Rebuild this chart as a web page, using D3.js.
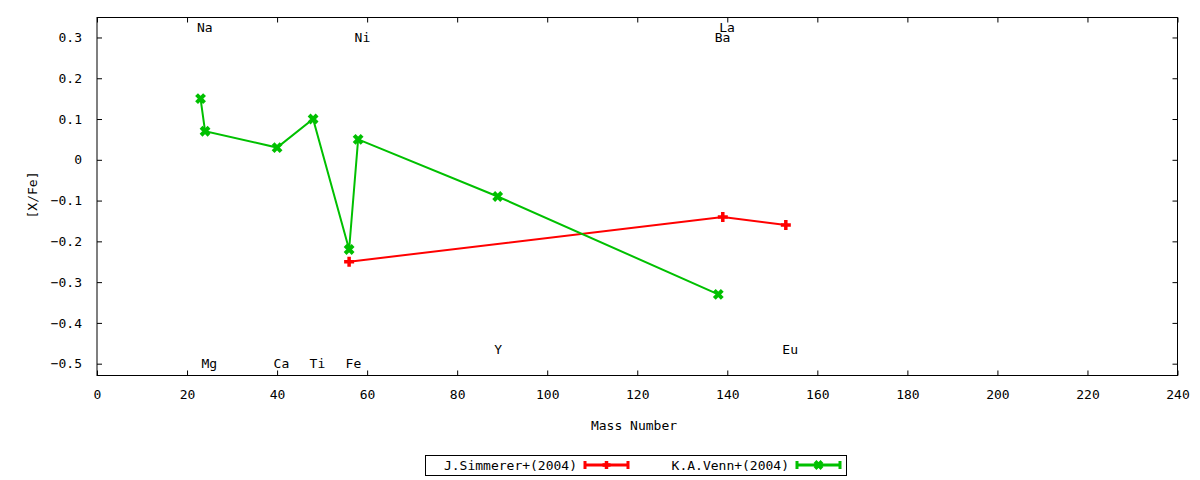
<!DOCTYPE html>
<html>
<head>
<meta charset="utf-8">
<script src="https://cdn.jsdelivr.net/npm/d3@7"></script>
<style>
  body { margin: 0; background: #fff; }
  text { font-family: "DejaVu Sans Mono", monospace; font-size: 13px; fill: #000; }
</style>
</head>
<body>
<div id="chart"></div>
<script>
// J.Simmerer+(2004)
var simmMass = [56, 139, 153];
var simmVal = [-0.25, -0.14, -0.16];
// K.A.Venn+(2004)
var vennMass = [23, 24, 40, 48, 56, 58, 89, 138];
var vennVal = [0.15, 0.07, 0.03, 0.10, -0.22, 0.05, -0.09, -0.33];

// element labels
var elemNames = ["Na", "Mg", "Ca", "Ti", "Fe", "Ni", "Y", "Ba", "La", "Eu"];
var elemMass = [23, 24, 40, 48, 56, 58, 89, 138, 139, 153];
var elemY = [0.325, -0.5, -0.5, -0.5, -0.5, 0.3, -0.466, 0.3, 0.325, -0.466];

var xTicks = [0, 20, 40, 60, 80, 100, 120, 140, 160, 180, 200, 220, 240];
var yTicks = [-0.5, -0.4, -0.3, -0.2, -0.1, 0, 0.1, 0.2, 0.3];

var W = 1200, H = 480;
var margin = {top: 17.5, right: 22.5, bottom: 104.5, left: 97};
var width = W - margin.left - margin.right;
var height = H - margin.top - margin.bottom;

var svg = d3.select("#chart").append("svg")
    .attr("width", W)
    .attr("height", H);

var g = svg.append("g")
    .attr("transform", "translate(" + margin.left + "," + margin.top + ")");

var x = d3.scaleLinear().domain([0, 240]).range([0, width]);
var y = d3.scaleLinear().domain([-0.529, 0.349]).range([height, 0]);

function fmtY(d) { return d === 0 ? "0" : d3.format(".1f")(d); }

// axes: ticks inward, mirrored
g.append("g")
    .attr("transform", "translate(0," + height + ")")
    .call(d3.axisBottom(x).tickValues(xTicks).tickSizeInner(-5).tickSizeOuter(0).tickPadding(14))
    .call(function(a) { a.select(".domain").remove(); a.selectAll("text").attr("font-size", 13).attr("font-family", "DejaVu Sans Mono"); });
g.append("g")
    .call(d3.axisTop(x).tickValues(xTicks).tickSizeInner(-5).tickSizeOuter(0).tickFormat(""))
    .call(function(a) { a.select(".domain").remove(); });
g.append("g")
    .call(d3.axisLeft(y).tickValues(yTicks).tickFormat(fmtY).tickSizeInner(-5).tickSizeOuter(0).tickPadding(15))
    .call(function(a) { a.select(".domain").remove(); a.selectAll("text").attr("font-size", 13).attr("font-family", "DejaVu Sans Mono"); });
g.append("g")
    .attr("transform", "translate(" + width + ",0)")
    .call(d3.axisRight(y).tickValues(yTicks).tickSizeInner(-5).tickSizeOuter(0).tickFormat(""))
    .call(function(a) { a.select(".domain").remove(); });

g.selectAll(".tick line").attr("stroke", "#000");

g.append("rect")
    .attr("width", width)
    .attr("height", height)
    .attr("fill", "none")
    .attr("stroke", "#000")
    .attr("stroke-width", 1);

// axis titles
svg.append("text")
    .attr("x", 634)
    .attr("y", 430)
    .attr("text-anchor", "middle")
    .text("Mass Number");
svg.append("text")
    .attr("transform", "translate(37,195) rotate(-90)")
    .attr("text-anchor", "middle")
    .text("[X/Fe]");

// element labels
g.selectAll(".elem")
    .data(elemNames)
    .enter().append("text")
    .attr("x", function(d, i) { return x(elemMass[i]) - 3.5; })
    .attr("y", function(d, i) { return y(elemY[i]); })
    .attr("dy", "0.35em")
    .text(function(d) { return d; });

var red = "#ff0000", green = "#00c000";

var line = d3.line()
    .x(function(d) { return x(d[0]); })
    .y(function(d) { return y(d[1]); });

var simm = simmMass.map(function(m, i) { return [m, simmVal[i]]; });
var venn = vennMass.map(function(m, i) { return [m, vennVal[i]]; });

g.append("path")
    .datum(simm)
    .attr("fill", "none")
    .attr("stroke", red)
    .attr("stroke-width", 2)
    .attr("d", line);
g.append("path")
    .datum(venn)
    .attr("fill", "none")
    .attr("stroke", green)
    .attr("stroke-width", 2)
    .attr("d", line);

function plusMark(sel, s) {
    sel.append("path")
        .attr("d", "M" + (-s) + ",0H" + s + "M0," + (-s) + "V" + s)
        .attr("stroke", red)
        .attr("stroke-width", 3.5)
        .attr("fill", "none");
}
function crossMark(sel, s) {
    sel.append("path")
        .attr("d", "M" + (-s) + "," + (-s) + "L" + s + "," + s + "M" + (-s) + "," + s + "L" + s + "," + (-s))
        .attr("stroke", green)
        .attr("stroke-width", 4)
        .attr("fill", "none");
}

g.selectAll(".simm")
    .data(simm)
    .enter().append("g")
    .attr("transform", function(d) { return "translate(" + x(d[0]) + "," + y(d[1]) + ")"; })
    .each(function() { plusMark(d3.select(this), 5); });

g.selectAll(".venn")
    .data(venn)
    .enter().append("g")
    .attr("transform", function(d) { return "translate(" + x(d[0]) + "," + y(d[1]) + ")"; })
    .each(function() { crossMark(d3.select(this), 4); });

// legend
var legend = svg.append("g");
legend.append("rect")
    .attr("x", 425.5)
    .attr("y", 455.5)
    .attr("width", 421)
    .attr("height", 20)
    .attr("fill", "none")
    .attr("stroke", "#000");

var legendItems = [
    {name: "J.Simmerer+(2004)", color: red, tx: 577, lx: 585, mark: plusMark},
    {name: "K.A.Venn+(2004)", color: green, tx: 789, lx: 797, mark: crossMark}
];
legendItems.forEach(function(d) {
    legend.append("text")
        .attr("x", d.tx)
        .attr("y", 465)
        .attr("dy", "0.35em")
        .attr("text-anchor", "end")
        .text(d.name);
    legend.append("path")
        .attr("d", "M" + d.lx + ",465H" + (d.lx + 43) + "M" + d.lx + ",461V469M" + (d.lx + 43) + ",461V469")
        .attr("stroke", d.color)
        .attr("stroke-width", 3)
        .attr("fill", "none");
    var m = legend.append("g").attr("transform", "translate(" + (d.lx + 21.5) + ",465)");
    d.mark(m, d.mark === plusMark ? 4 : 3.5);
});
</script>
</body>
</html>
